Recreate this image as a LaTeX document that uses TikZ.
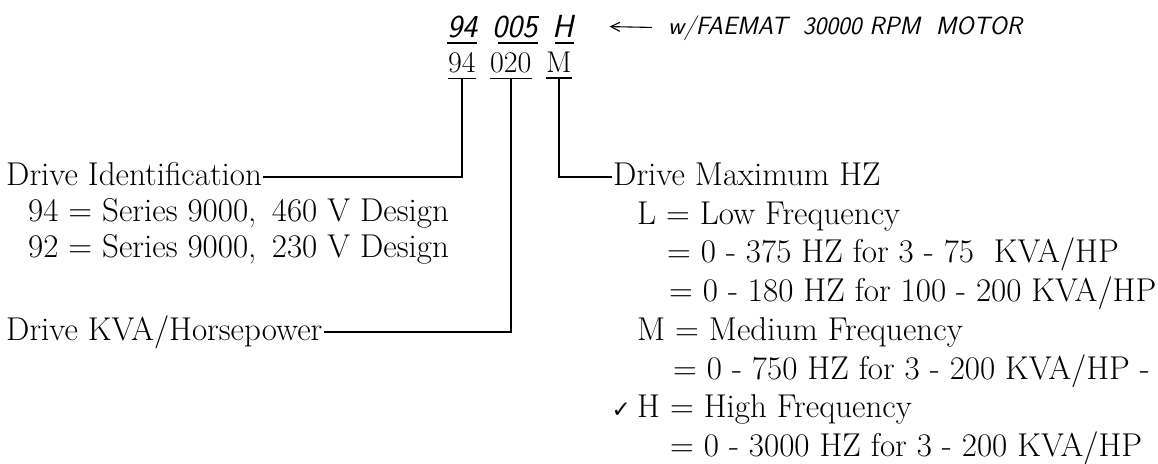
\documentclass[tikz,border=0pt]{standalone}
\usepackage{fontspec}
\usepackage{tikz}
\usetikzlibrary{arrows.meta}
\newfontfamily\checkfont{DejaVu Sans}

\begin{document}
\begin{tikzpicture}[
  x=1pt, y=-1pt,
  font=\fontsize{33}{40}\selectfont,
  txt/.style={anchor=base west, inner sep=1pt},
  code/.style={anchor=base west, inner sep=0pt, font=\fontsize{30}{36}\selectfont},
  hand/.style={anchor=base west, inner sep=0pt, font=\fontsize{32}{38}\selectfont\sffamily\slshape},
  note/.style={anchor=base west, inner sep=0pt, font=\fontsize{25}{30}\selectfont\sffamily\slshape},
  wire/.style={line width=1.4pt},
  ul/.style={line width=1.6pt},
  ar/.style={-{Straight Barb[length=9pt,width=9pt]}, line width=1.1pt},
]
\useasboundingbox (0,0) rectangle (1158,463);
% handwritten code and remark
\node[hand] (a94) at (447,37) {94};
\node[hand] (a005) at (492,37) {005};
\node[hand] (aH) at (552,37) {H};
\node[note] (rem) at (668,34) {w/FAEMAT\ \ 30000 RPM\ \ MOTOR};
\draw[ar, shorten <=16pt, shorten >=36pt] (rem.west) -- (aH.east);
% printed code
\node[code] (b94) at (448,72) {94};
\node[code] (b020) at (490,72) {020};
\node[code] (bM) at (546,72) {M};
% underlines
\draw[ul] ([yshift=-5pt]a94.south west) -- ([yshift=-5pt]a94.south east);
\draw[ul] ([yshift=-5pt,xshift=6pt]a005.south west) -- ([yshift=-5pt]a005.south east);
\draw[ul] ([yshift=-6pt,xshift=3pt]aH.south west) -- ([yshift=-6pt]aH.south east);
\draw[ul] ([yshift=-6pt]b94.south west) -- ([yshift=-6pt]b94.south east);
\draw[ul] ([yshift=-6pt]b020.south west) -- ([yshift=-6pt]b020.south east);
\draw[ul] ([yshift=-6pt]bM.south west) -- ([yshift=-6pt]bM.south east);
% drive identification
\node[txt] (did) at (5,185) {Drive Identification};
\node[txt] (d94) at (27,221) {94 = Series 9000,\, 460 V Design};
\node[txt] (d92) at (27,257) {92 = Series 9000,\, 230 V Design};
\node[txt] (kva) at (5,340) {Drive KVA/Horsepower};
% drive maximum hz
\node[txt] (hz) at (612,185) {Drive Maximum HZ};
\node[txt] (lo) at (636,224) {L = Low Frequency};
\node[txt] (lo1) at (666,262) {= 0 - 375 HZ for 3 - 75\ \ KVA/HP};
\node[txt] (lo2) at (668,301) {= 0 - 180 HZ for 100 - 200 KVA/HP};
\node[txt] (md) at (636,340) {M = Medium Frequency};
\node[txt] (md1) at (672,379) {= 0 - 750 HZ for 3 - 200 KVA/HP -};
\node[txt] (hi) at (636,417) {H = High Frequency};
\node[txt, anchor=base east, font=\fontsize{23}{28}\selectfont\checkfont] (chk) at ([xshift=-4pt]hi.base west) {✓};
\node[txt] (hi1) at (669,456) {= 0 - 3000 HZ for 3 - 200 KVA/HP};
% connectors
\draw[wire] ([yshift=-6pt]b94.south) |- ([yshift=8pt]did.base east);
\draw[wire] ([yshift=-6pt]b020.south) |- ([yshift=8pt]kva.base east);
\draw[wire] ([yshift=-6pt]bM.south) |- ([yshift=8pt]hz.base west);
\end{tikzpicture}
\end{document}
